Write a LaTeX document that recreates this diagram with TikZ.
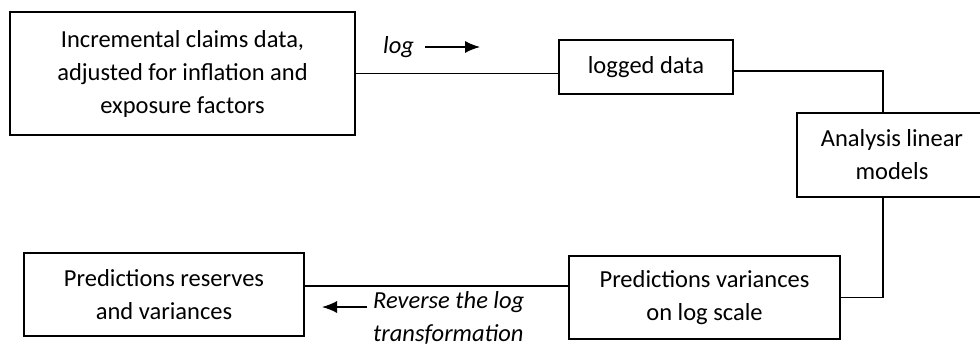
\documentclass[tikz,border=0pt]{standalone}
\usepackage{fontspec}
\setmainfont{Carlito}
\usetikzlibrary{arrows.meta,positioning}
\tikzset{
  box/.style={draw, line width=1.3pt, align=center, inner sep=0pt,
    font=\fontsize{24.5}{33}\selectfont},
  note/.style={font=\fontsize{24.5}{33}\selectfont\itshape, align=left, inner sep=0pt},
  link/.style={line width=1.3pt},
  tip/.style={line width=1.3pt, -{Latex[length=15pt,width=12pt]}}
}
\begin{document}
\begin{tikzpicture}[x=1pt,y=-1pt]
      \clip (0,0) rectangle (980,350);

      \node[box, minimum width=345pt, minimum height=123pt] (claims) at (182.5,73.5)
      {Incremental claims data,\\adjusted for inflation and\\exposure factors};
      \node[box, minimum width=174pt, minimum height=54pt] (logged) at (646,67) {logged data};
      \node[box, minimum width=190pt, minimum height=84pt] (analysis) at (892,155)
      {Analysis linear\\models};
      \node[box, minimum width=271pt, minimum height=83pt] (predvar) at (704.5,297.5)
      {Predictions variances\\on log scale};
      \node[box, minimum width=280pt, minimum height=83pt] (predres) at (164,294.5)
      {Predictions reserves\\and variances};

      \draw[link] (claims.east) -- (claims.east -| logged.west);
      \draw[link] ([yshift=-4pt]logged.east) -| ([xshift=-9pt]analysis.north);
      \draw[link] ([xshift=-9pt]analysis.south) |- (predvar.east);
      \draw[link] ([yshift=11.5pt]predvar.west) -- ([yshift=11.5pt]predvar.west -| predres.east);

      % log step
      \node[note, anchor=west] (logtxt) at (383,47) {log};
      \coordinate (l0) at (425,47);
      \coordinate (l1) at (480,47);
      \draw[tip] (l0) -- (l1);

      % back transform
      \coordinate (r0) at (367,307);
      \coordinate (r1) at (322,307);
      \draw[tip] (r0) -- (r1);
      \node[note, anchor=north west] (revtxt) at (373,291)
      {Reverse the log\\transformation};
\end{tikzpicture}
\end{document}
